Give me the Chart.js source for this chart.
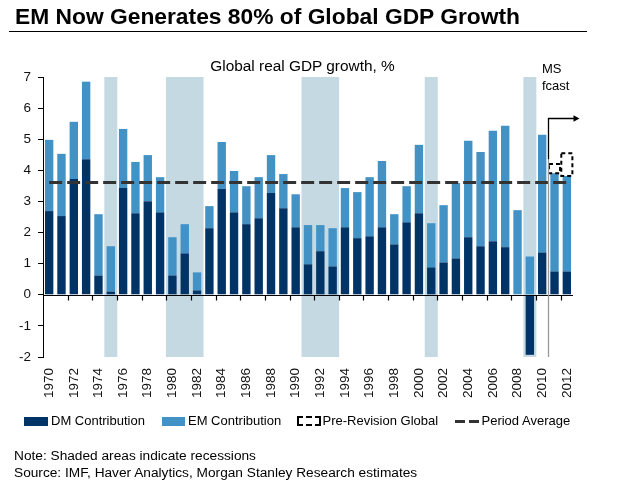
<!DOCTYPE html>
<html><head><meta charset="utf-8">
<script src="https://cdn.jsdelivr.net/npm/chart.js@4.4.0/dist/chart.umd.min.js"></script>
<style>
html,body{margin:0;padding:0;background:#fff;}
#wrap{position:relative;width:634px;height:486px;overflow:hidden;font-family:"Liberation Sans",Arial,sans-serif;color:#000;}
canvas{position:absolute;left:0;top:0;}
.t{position:absolute;white-space:nowrap;}
.box{position:absolute;}
</style></head><body>
<div id="wrap">
<canvas id="c" width="634" height="486"></canvas>
<div class="t" style="left:15px;top:3px;font-size:22.8px;font-weight:bold;line-height:26px;">EM Now Generates 80% of Global GDP Growth</div>
<div class="box" style="left:9px;top:31px;width:578px;height:1px;background:#000;"></div>
<div class="t" style="left:302.5px;top:56.7px;transform:translateX(-50%);font-size:15.4px;line-height:18px;">Global real GDP growth, %</div>
<div class="t" style="left:542px;top:61px;font-size:13px;line-height:15px;">MS</div>
<div class="t" style="left:542px;top:78px;font-size:13px;line-height:15px;">fcast</div>

<div class="box" style="left:24px;top:417px;width:24px;height:9px;background:#003366;"></div>
<div class="t" style="left:51px;top:413.2px;font-size:13px;line-height:15px;">DM Contribution</div>
<div class="box" style="left:162px;top:417px;width:23px;height:9px;background:#4292c6;"></div>
<div class="t" style="left:188px;top:413.2px;font-size:13px;line-height:15px;">EM Contribution</div>
<div class="box" style="left:297px;top:416px;width:24px;height:10px;border:2px dashed #000;box-sizing:border-box;"></div>
<div class="t" style="left:322.5px;top:413.2px;font-size:13px;line-height:15px;">Pre-Revision Global</div>
<div class="box" style="left:455px;top:420px;width:10px;height:3px;background:#333;"></div>
<div class="box" style="left:469px;top:420px;width:10px;height:3px;background:#333;"></div>
<div class="t" style="left:481.5px;top:413.2px;font-size:13px;line-height:15px;">Period Average</div>

<div class="t" style="left:14px;top:448px;font-size:13.7px;line-height:16.5px;">Note: Shaded areas indicate recessions</div>
<div class="t" style="left:14px;top:464.5px;font-size:13.7px;line-height:16.5px;">Source: IMF, Haver Analytics, Morgan Stanley Research estimates</div>
</div>
<script>
const categories = [1970,1971,1972,1973,1974,1975,1976,1977,1978,1979,1980,1981,1982,1983,1984,1985,1986,1987,1988,1989,1990,1991,1992,1993,1994,1995,1996,1997,1998,1999,2000,2001,2002,2003,2004,2005,2006,2007,2008,2009,2010,2011,2012];
const dmContribution = [2.69,2.53,3.72,4.36,0.62,0.10,3.43,2.62,3.01,2.65,0.62,1.33,0.14,2.14,3.40,2.65,2.27,2.46,3.27,2.78,2.17,0.98,1.40,0.91,2.17,1.82,1.88,2.17,1.62,2.33,2.62,0.88,1.04,1.17,1.85,1.56,1.72,1.53,0.00,-1.93,1.36,0.75,0.75];
const emContribution = [2.29,2.00,1.84,2.49,1.97,1.46,1.90,1.65,1.48,1.13,1.23,0.94,0.58,0.71,1.51,1.33,1.22,1.32,1.22,1.10,1.06,1.26,0.84,1.23,1.26,1.48,1.90,2.13,0.97,1.16,2.20,1.42,1.84,2.42,3.10,3.03,3.55,3.90,2.72,1.23,3.78,3.16,3.07];
const preRevisionYears = [2011,2012];
const preRevisionGlobal = [4.20,4.55];
const periodAverage = 3.61;
const recessionYears = [1975,1980,1981,1982,1991,1992,1993,2001,2009];
const yMin = -2, yMax = 7;
const forecastStartYear = 2011;
const forecastArrowLevel = 5.69;

const labels = categories.map(String);
const preRevData = categories.map((c,i)=>{
  const k = preRevisionYears.indexOf(c);
  if (k < 0) return null;
  const total = Math.max(dmContribution[i],0) + Math.max(emContribution[i],0);
  return [total, preRevisionGlobal[k]];
});
const recessionData = categories.map(c => recessionYears.includes(c) ? [yMin, yMax] : null);
const avgData = categories.map(() => periodAverage);

const overlay = {
  id: 'overlay',
  afterDatasetsDraw(chart) {
    const {ctx, chartArea: a, scales: {x, y2}} = chart;
    const step = x.getPixelForValue(1) - x.getPixelForValue(0);
    // pre-revision dashed outlines
    const meta = chart.getDatasetMeta(3);
    ctx.save();
    ctx.strokeStyle = '#000'; ctx.lineWidth = 2; ctx.setLineDash([4,3]);
    meta.data.forEach((el,i) => {
      if (preRevData[i] == null) return;
      const p = el.getProps(['x','y','base','width'], true);
      const top = Math.min(p.y, p.base), h = Math.abs(p.base - p.y);
      ctx.strokeRect(p.x - p.width/2, top, p.width, h);
    });
    ctx.restore();
    // zero line and boundary ticks
    const y0 = Math.round(y2.getPixelForValue(0)) + 0.5;
    ctx.save();
    ctx.strokeStyle = '#000'; ctx.lineWidth = 1.2;
    ctx.beginPath();
    ctx.moveTo(a.left, y0); ctx.lineTo(a.right, y0);
    for (let i = 2; i < categories.length; i += 2) {
      const px = Math.round(x.getPixelForValue(i) - step/2) + 0.5;
      ctx.moveTo(px, y0); ctx.lineTo(px, y0 + 5);
    }
    ctx.stroke();
    ctx.restore();
    // forecast marker
    const fi = categories.indexOf(forecastStartYear);
    const fx = Math.round(x.getPixelForValue(fi) - step/2) + 0.5;
    const ft = Math.round(y2.getPixelForValue(forecastArrowLevel)) + 0.5;
    const fm = y2.getPixelForValue(4.36);
    ctx.save();
    ctx.lineWidth = 1.3;
    ctx.strokeStyle = '#999';
    ctx.beginPath(); ctx.moveTo(fx, fm); ctx.lineTo(fx, a.bottom); ctx.stroke();
    ctx.strokeStyle = '#000';
    ctx.beginPath(); ctx.moveTo(fx, fm); ctx.lineTo(fx, ft); ctx.lineTo(fx + 26, ft); ctx.stroke();
    ctx.fillStyle = '#000';
    ctx.beginPath(); ctx.moveTo(fx + 31, ft); ctx.lineTo(fx + 25, ft - 3.2); ctx.lineTo(fx + 25, ft + 3.2); ctx.closePath(); ctx.fill();
    ctx.restore();
  }
};

Chart.defaults.font.family = '"Liberation Sans", Arial, sans-serif';
Chart.defaults.font.size = 13.5;
Chart.defaults.color = '#111';

new Chart(document.getElementById('c'), {
  type: 'bar',
  data: {
    labels: labels,
    datasets: [
      {label:'Period Average', type:'line', data: avgData, yAxisID:'y2', borderColor:'#333', borderWidth:3, borderDash:[13,5], pointRadius:0, fill:false, order:0},
      {label:'DM Contribution', data: dmContribution, yAxisID:'y', backgroundColor:'#003366', barPercentage:0.68, categoryPercentage:1, order:1},
      {label:'EM Contribution', data: emContribution, yAxisID:'y', backgroundColor:'#4292c6', barPercentage:0.68, categoryPercentage:1, order:2},
      {label:'Pre-Revision Global', data: preRevData, yAxisID:'y2', backgroundColor:'rgba(0,0,0,0)', barPercentage:0.9, categoryPercentage:1, order:3},
      {label:'Recession', data: recessionData, yAxisID:'y2', backgroundColor:'#c5d9e3', barPercentage:1, categoryPercentage:1, order:4}
    ]
  },
  options: {
    responsive: false,
    devicePixelRatio: 1,
    animation: false,
    layout: {padding: {top:77, right:61, bottom:79, left:0}},
    plugins: {legend: {display:false}, tooltip: {enabled:false}, title:{display:false}},
    scales: {
      x: {
        stacked: true,
        grid: {display:false, drawTicks:false},
        border: {display:false},
        ticks: {autoSkip:false, minRotation:90, maxRotation:90, padding:11,
          callback: (v,i) => i % 2 === 0 ? labels[i] : ''},
        afterFit: s => { s.height = 50; }
      },
      y: {
        stacked: true, min: yMin, max: yMax,
        ticks: {stepSize:1, padding:7},
        grid: {display:true, drawOnChartArea:false, drawTicks:true, tickLength:5, color:'#000'},
        border: {display:true, color:'#000', width:1},
        afterFit: s => { s.width = 43; }
      },
      y2: {display:false, stacked:false, min: yMin, max: yMax}
    }
  },
  plugins: [overlay]
});
</script>
</body></html>
